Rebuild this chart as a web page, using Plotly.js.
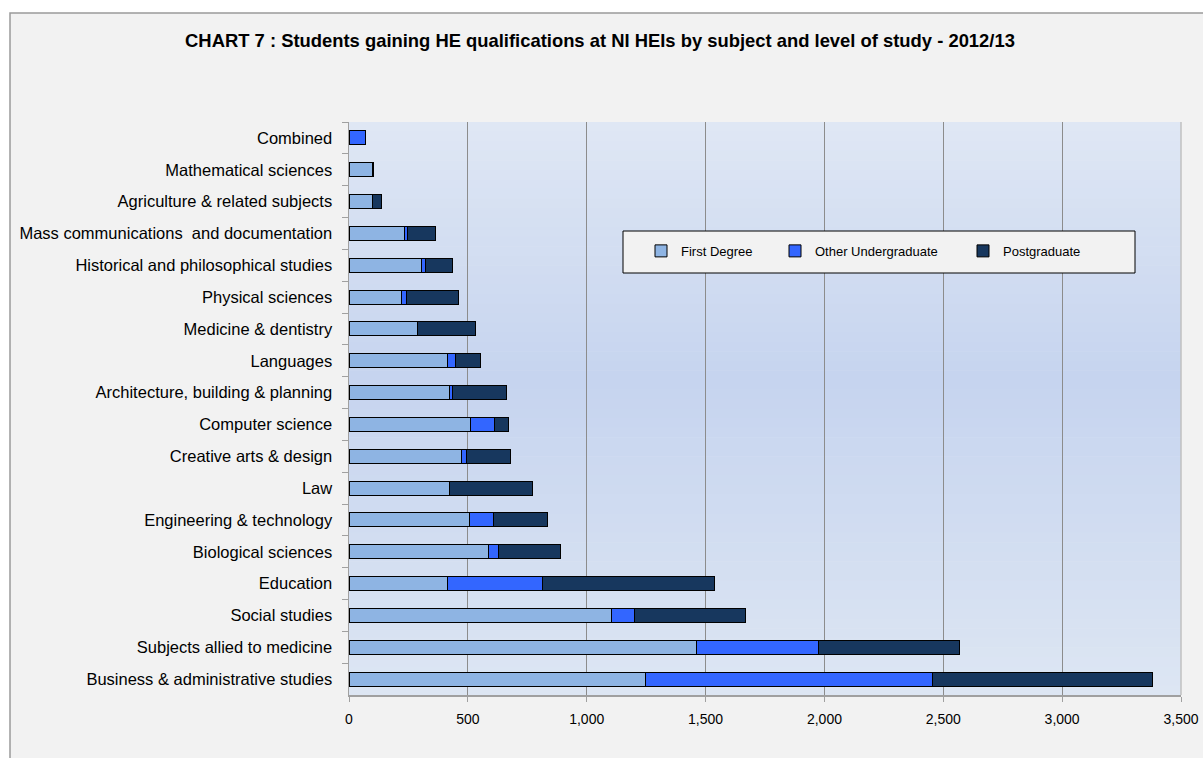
<!DOCTYPE html>
<html>
<head>
<meta charset="utf-8">
<script src="https://cdn.plot.ly/plotly-3.0.1.min.js"></script>
<style>html,body{margin:0;padding:0;background:#fff;}#chart{width:1203px;height:758px;}</style>
</head>
<body>
<div id="chart"></div>
<script>
const categories = [
  "Combined",
  "Mathematical sciences",
  "Agriculture & related subjects",
  "Mass communications  and documentation",
  "Historical and philosophical studies",
  "Physical sciences",
  "Medicine & dentistry",
  "Languages",
  "Architecture, building & planning",
  "Computer science",
  "Creative arts & design",
  "Law",
  "Engineering & technology",
  "Biological sciences",
  "Education",
  "Social studies",
  "Subjects allied to medicine",
  "Business & administrative studies"
];
const firstDegree = [0, 97, 97, 234, 303, 219, 290, 416, 422, 513, 474, 422, 508, 588, 416, 1105, 1463, 1246];
const otherUndergraduate = [70, 0, 0, 11, 18, 22, 0, 30, 13, 98, 22, 0, 98, 40, 396, 95, 510, 1207];
const postgraduate = [0, 8, 40, 117, 115, 218, 243, 109, 228, 59, 184, 351, 230, 260, 727, 470, 596, 925];
const seriesNames = ["First Degree", "Other Undergraduate", "Postgraduate"];
const seriesColors = ["#8EB4E3", "#3366FF", "#17375E"];
const xTickVals = [0, 500, 1000, 1500, 2000, 2500, 3000, 3500];

const legendIds = ['legend', 'legend2', 'legend3'];
const seriesValues = [firstDegree, otherUndergraduate, postgraduate];
const traces = seriesValues.map((vals, i) => ({
  type: 'bar',
  orientation: 'h',
  name: seriesNames[i],
  legend: legendIds[i],
  y: categories,
  x: vals,
  marker: {color: seriesColors[i], line: {color: '#000000', width: 1}},
  hoverinfo: 'x+y+name'
}));

// plot-area background gradient approximated with thin strips (styling only)
function lerp(a, b, t) { return Math.round(a + (b - a) * t); }
function hex(c) { return [1, 3, 5].map(k => parseInt(c.substr(k, 2), 16)); }
const cTop = hex('#dfe7f4'), cMid = hex('#c6d4ef'), cBot = hex('#dde6f3');
const strips = [];
const N = 60;
for (let k = 0; k < N; k++) {
  const t = (k + 0.5) / N; // from top
  let c;
  if (t < 0.45) { const u = t / 0.45; c = cTop.map((v, j) => lerp(v, cMid[j], u)); }
  else { const u = (t - 0.45) / 0.55; c = cMid.map((v, j) => lerp(v, cBot[j], u)); }
  strips.push({
    type: 'rect', xref: 'paper', yref: 'paper', layer: 'below',
    x0: 0, x1: 1, y0: 1 - (k + 1) / N - 0.001, y1: 1 - k / N,
    fillcolor: 'rgb(' + c.join(',') + ')', line: {width: 0}
  });
}

const legendBase = {
  orientation: 'h', xanchor: 'left', y: 0.775, yanchor: 'middle',
  bgcolor: 'rgba(0,0,0,0)', borderwidth: 0, font: {size: 13}, itemwidth: 30
};
const pxToPaperX = px => (px - 349) / 832;

const layout = {
  width: 1203, height: 758,
  margin: {l: 349, r: 22, t: 122, b: 63},
  paper_bgcolor: '#ffffff',
  plot_bgcolor: 'rgba(0,0,0,0)',
  barmode: 'stack',
  bargap: 0.56,
  font: {family: 'Liberation Sans, Arial, sans-serif', size: 14, color: '#000'},
  title: {
    text: '<b>CHART 7 : Students gaining HE qualifications at NI HEIs by subject and level of study - 2012/13</b>',
    font: {family: 'Liberation Sans Narrow, Liberation Sans, Arial, sans-serif', size: 18.4, color: '#000'},
    x: 600 / 1203, xref: 'container', xanchor: 'center',
    y: 1 - 41 / 758, yref: 'container', yanchor: 'middle'
  },
  xaxis: {
    range: [0, 3500],
    tickvals: xTickVals,
    tickformat: ',d',
    showgrid: true, gridcolor: '#8c8c8c', gridwidth: 1,
    zeroline: false,
    showline: true, linecolor: '#a0a0a0', linewidth: 1.5,
    ticks: 'outside', ticklen: 5, tickcolor: '#a0a0a0',
    ticklabelstandoff: 6,
    tickfont: {size: 14},
    fixedrange: true
  },
  yaxis: {
    autorange: 'reversed',
    showgrid: false,
    showline: true, linecolor: '#a0a0a0', linewidth: 1.5,
    ticks: 'outside', ticklen: 6, tickcolor: '#a0a0a0',
    tickson: 'boundaries',
    ticklabelstandoff: 12,
    tickfont: {size: 16.5},
    fixedrange: true
  },
  showlegend: true,
  legend: Object.assign({}, legendBase, {x: pxToPaperX(641)}),
  legend2: Object.assign({}, legendBase, {x: pxToPaperX(775)}),
  legend3: Object.assign({}, legendBase, {x: pxToPaperX(963)}),
  shapes: [
    {type: 'rect', xref: 'paper', yref: 'paper', layer: 'below',
     x0: (10 - 349) / 832, x1: (1215 - 349) / 832,
     y0: (695 - 770) / 573, y1: (695 - 13) / 573,
     fillcolor: '#f2f2f2', line: {color: '#9a9a9a', width: 1.5}}
  ].concat(strips).concat([
    {type: 'rect', xref: 'paper', yref: 'paper', layer: 'above',
     x0: (623 - 349) / 832, x1: (1135 - 349) / 832,
     y0: (695 - 273) / 573, y1: (695 - 231) / 573,
     fillcolor: '#f2f2f2', line: {color: '#000000', width: 1}},
    {type: 'line', xref: 'paper', yref: 'paper', layer: 'below',
     x0: 1, x1: 1, y0: 0, y1: 1, line: {color: '#c0c0c0', width: 1.5}}
  ])
};

Plotly.newPlot('chart', traces, layout, {staticPlot: true, displayModeBar: false});
</script>
</body>
</html>
